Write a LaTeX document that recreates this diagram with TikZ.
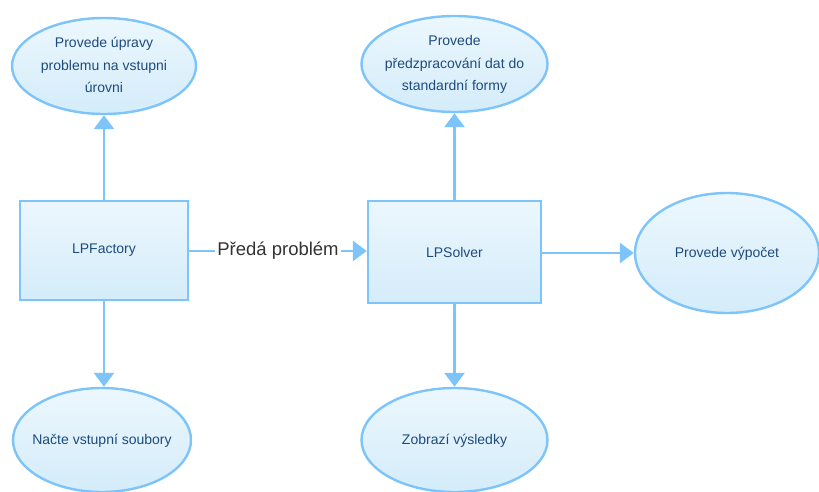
\documentclass[tikz,border=0pt]{standalone}
\usepackage{fontspec}
\setmainfont{Liberation Sans}
\usetikzlibrary{shapes.geometric,arrows.meta}
\definecolor{edge}{RGB}{125,196,250}
\definecolor{filltop}{RGB}{236,247,253}
\definecolor{fillbot}{RGB}{212,236,250}
\definecolor{txt}{RGB}{30,75,125}
\newcommand{\ztext}[1]{\makebox[0pt][c]{\begin{tabular}{@{}c@{}}#1\end{tabular}}}
\tikzset{
  base/.style={draw=edge, line width=2.4pt, top color=filltop, bottom color=fillbot,
    text=txt, font=\fontsize{14}{22.5}\selectfont, align=center, inner sep=0pt},
  oval/.style={base, ellipse},
  box/.style={base, rectangle},
  conn/.style={draw=edge, line width=2.6pt, -{Triangle[width=20pt,length=14pt]}},
  plain/.style={draw=edge, line width=2.6pt},
}
\begin{document}
\begin{tikzpicture}[x=1pt,y=-1pt]
\useasboundingbox (0,0) rectangle (819,492);
\node[box, minimum width=168pt, minimum height=99pt] (fac) at (104,250.5) {LPFactory};
\node[box, minimum width=173pt, minimum height=102pt] (sol) at (454.5,252) {LPSolver};
\node[oval, minimum width=184pt, minimum height=96pt] (e1) at (104,66) {\ztext{Provede úpravy\\problemu na vstupni\\úrovni}};
\node[oval, minimum width=186pt, minimum height=96pt] (e2) at (454.5,64) {\ztext{Provede\\předzpracování dat do\\standardní formy}};
\node[oval, minimum width=184pt, minimum height=120pt] (e3) at (727,253) {\ztext{Provede výpočet}};
\node[oval, minimum width=178pt, minimum height=104pt] (e4) at (102,440) {\ztext{Načte vstupní soubory}};
\node[oval, minimum width=186pt, minimum height=104pt] (e5) at (454.5,440) {\ztext{Zobrazí výsledky}};
\node[font=\fontsize{18.5}{22}\selectfont, text=black!80, inner sep=2pt] (lab) at (278,251) {Předá problém};
\draw[conn] (fac.north) -- (fac.north |- e1.south);
\draw[conn] (fac.south) -- (fac.south |- e4.north);
\draw[conn] (sol.north) -- (sol.north |- e2.south);
\draw[conn] (sol.south) -- (sol.south |- e5.north);
\draw[conn] (sol.east |- e3.west) -- (e3.west);
\draw[plain] (fac.east |- lab.west) -- (lab.west);
\draw[conn] (lab.east) -- (sol.west |- lab.east);
\end{tikzpicture}
\end{document}
